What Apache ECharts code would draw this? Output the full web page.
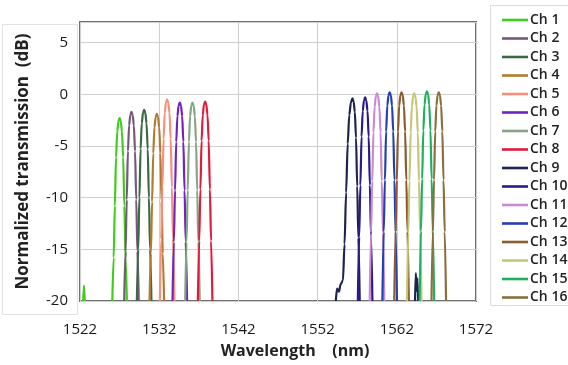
<!DOCTYPE html>
<html>
<head>
<meta charset="utf-8">
<script src="https://cdn.jsdelivr.net/npm/echarts@6/dist/echarts.min.js"></script>
<style>
  html, body { margin: 0; padding: 0; background: #fff; }
  #chart { width: 568px; height: 365px; }
</style>
</head>
<body>
<div id="chart"></div>
<script>
// wavelength (nm), transmission (dB)
const X0 = 1522
const xTicks = [1522, 1532, 1542, 1552, 1562, 1572]
const yTicks = [-20, -15, -10, -5, 0, 5]
const names = ["Ch 1", "Ch 2", "Ch 3", "Ch 4", "Ch 5", "Ch 6", "Ch 7", "Ch 8",
  "Ch 9", "Ch 10", "Ch 11", "Ch 12", "Ch 13", "Ch 14", "Ch 15", "Ch 16"]

const ch1 = [[1522.4,-20],[1522.5,-18.5],[1522.6,-20],[1524,"-"],[1526.08,-20],[1526.25,-15.8],[1526.4,-10.8],[1526.55,-6.1],[1526.7,-3.6],[1526.85,-2.6],[1527.0,-2.3],[1527.15,-2.6],[1527.3,-3.6],[1527.45,-6.1],[1527.6,-10.8],[1527.75,-15.8],[1527.92,-20]]
const ch2 = [[1527.58,-20],[1527.75,-15.2],[1527.9,-10.2],[1528.05,-5.5],[1528.2,-3.0],[1528.35,-2.0],[1528.5,-1.7],[1528.65,-2.0],[1528.8,-3.0],[1528.95,-5.5],[1529.1,-10.2],[1529.25,-15.2],[1529.42,-20]]
const ch3 = [[1529.18,-20],[1529.35,-15.0],[1529.5,-10.0],[1529.65,-5.3],[1529.8,-2.8],[1529.95,-1.8],[1530.1,-1.5],[1530.25,-1.8],[1530.4,-2.8],[1530.55,-5.3],[1530.7,-10.0],[1530.85,-15.0],[1531.02,-20]]
const ch4 = [[1530.78,-20],[1530.95,-15.4],[1531.1,-10.4],[1531.25,-5.7],[1531.4,-3.2],[1531.55,-2.2],[1531.7,-1.9],[1531.85,-2.2],[1532.0,-3.2],[1532.15,-5.7],[1532.3,-10.4],[1532.45,-15.4],[1532.62,-20]]
const ch5 = [[1532.08,-20],[1532.25,-14.0],[1532.4,-9.0],[1532.55,-4.3],[1532.7,-1.8],[1532.85,-0.8],[1533.0,-0.5],[1533.15,-0.8],[1533.3,-1.8],[1533.45,-4.3],[1533.6,-9.0],[1533.75,-14.0],[1533.92,-20]]
const ch6 = [[1533.68,-20],[1533.85,-14.3],[1534.0,-9.3],[1534.15,-4.6],[1534.3,-2.1],[1534.45,-1.1],[1534.6,-0.8],[1534.75,-1.1],[1534.9,-2.1],[1535.05,-4.6],[1535.2,-9.3],[1535.35,-14.3],[1535.52,-20]]
const ch7 = [[1535.28,-20],[1535.45,-14.3],[1535.6,-9.3],[1535.75,-4.6],[1535.9,-2.1],[1536.05,-1.1],[1536.2,-0.8],[1536.35,-1.1],[1536.5,-2.1],[1536.65,-4.6],[1536.8,-9.3],[1536.95,-14.3],[1537.12,-20]]
const ch8 = [[1536.88,-20],[1537.05,-14.2],[1537.2,-9.2],[1537.35,-4.5],[1537.5,-2.0],[1537.65,-1.0],[1537.8,-0.7],[1537.95,-1.0],[1538.1,-2.0],[1538.25,-4.5],[1538.4,-9.2],[1538.55,-14.2],[1538.72,-20]]
const ch9 = [[1554.3,-20],[1554.45,-18.8],[1554.7,-19.1],[1554.9,-18.4],[1555.2,-18.0],[1555.4,-14.5],[1555.6,-9.5],[1555.8,-4.8],[1556.0,-2.0],[1556.2,-0.8],[1556.4,-0.4],[1556.55,-0.7],[1556.7,-1.7],[1556.85,-4.2],[1557.0,-8.9],[1557.15,-13.9],[1557.32,-20],[1560,"-"],[1564.3,-20],[1564.4,-17.3],[1564.5,-19.0],[1564.6,-17.8],[1564.7,-20]]
const ch10 = [[1557.08,-20],[1557.25,-13.8],[1557.4,-8.8],[1557.55,-4.1],[1557.7,-1.6],[1557.85,-0.6],[1558.0,-0.3],[1558.15,-0.6],[1558.3,-1.6],[1558.45,-4.1],[1558.6,-8.8],[1558.75,-13.8],[1558.92,-20]]
const ch11 = [[1558.58,-20],[1558.75,-13.4],[1558.9,-8.4],[1559.05,-3.7],[1559.2,-1.2],[1559.35,-0.2],[1559.5,0.1],[1559.65,-0.2],[1559.8,-1.2],[1559.95,-3.7],[1560.1,-8.4],[1560.25,-13.4],[1560.42,-20]]
const ch12 = [[1560.18,-20],[1560.35,-13.3],[1560.5,-8.3],[1560.65,-3.6],[1560.8,-1.1],[1560.95,-0.1],[1561.1,0.2],[1561.25,-0.1],[1561.4,-1.1],[1561.55,-3.6],[1561.7,-8.3],[1561.85,-13.3],[1562.02,-20]]
const ch13 = [[1561.68,-20],[1561.85,-13.3],[1562.0,-8.3],[1562.15,-3.6],[1562.3,-1.1],[1562.45,-0.1],[1562.6,0.2],[1562.75,-0.1],[1562.9,-1.1],[1563.05,-3.6],[1563.2,-8.3],[1563.35,-13.3],[1563.52,-20]]
const ch14 = [[1563.28,-20],[1563.45,-13.4],[1563.6,-8.4],[1563.75,-3.7],[1563.9,-1.2],[1564.05,-0.2],[1564.2,0.1],[1564.35,-0.2],[1564.5,-1.2],[1564.65,-3.7],[1564.8,-8.4],[1564.95,-13.4],[1565.12,-20]]
const ch15 = [[1564.88,-20],[1565.05,-13.2],[1565.2,-8.2],[1565.35,-3.5],[1565.5,-1.0],[1565.65,0.0],[1565.8,0.3],[1565.95,0.0],[1566.1,-1.0],[1566.25,-3.5],[1566.4,-8.2],[1566.55,-13.2],[1566.72,-20]]
const ch16 = [[1566.38,-20],[1566.55,-13.3],[1566.7,-8.3],[1566.85,-3.6],[1567.0,-1.1],[1567.15,-0.1],[1567.3,0.2],[1567.45,-0.1],[1567.6,-1.1],[1567.75,-3.6],[1567.9,-8.3],[1568.05,-13.3],[1568.22,-20]]

const channels = [ch1, ch2, ch3, ch4, ch5, ch6, ch7, ch8, ch9, ch10, ch11, ch12, ch13, ch14, ch15, ch16]

const colors = ["#3fcc1c", "#76587a", "#3b6a45", "#b27a32", "#f7907a", "#7322c2", "#84a684", "#e01c3c",
  "#1f2350", "#2c1a8a", "#c98cd2", "#2440b0", "#8b5a2e", "#c6c67a", "#1fb05e", "#8a703e"]

const font = "'Open Sans', 'Noto Sans', sans-serif"

const chart = echarts.init(document.getElementById("chart"), null, { renderer: "canvas" })

const series = channels.map((ch, i) => ({
  name: names[i],
  type: "line",
  symbol: "none",
  smooth: 0.3,
  smoothMonotone: "x",
  connectNulls: false,
  lineStyle: { width: 2.2, color: colors[i] },
  itemStyle: { color: colors[i] },
  // x is shifted so ticks can start at 1522
  data: ch.map(p => [p[0] - X0, p[1]])
}))

chart.setOption({
  animation: false,
  backgroundColor: "#fff",
  textStyle: { fontFamily: font },
  graphic: [
    { type: "rect", left: 0, top: 22, shape: { width: 75, height: 290 },
      style: { fill: "none", stroke: "#e2e2e2", lineWidth: 1 }, z: -1 },
    { type: "rect", left: 488, top: 3, shape: { width: 82, height: 300 },
      style: { fill: "none", stroke: "#dcdcdc", lineWidth: 1 }, z: -1 }
  ],
  grid: {
    left: 80, right: 92, top: 22, bottom: 64,
    show: true, borderColor: "#707070", borderWidth: 2
  },
  legend: {
    orient: "vertical",
    left: 497, top: 8,
    icon: "path://M0,0 H26 V2.6 H0 Z",
    itemWidth: 26, itemHeight: 14, itemGap: 4.5,
    textStyle: { fontSize: 14, fontWeight: 600, color: "#222", fontFamily: font, padding: [0, 0, 0, -3] },
    data: names
  },
  xAxis: {
    type: "value",
    min: xTicks[0] - X0,
    max: xTicks[xTicks.length - 1] - X0,
    interval: xTicks[1] - xTicks[0],
    name: "Wavelength    (nm)",
    nameLocation: "middle",
    nameGap: 42,
    nameTextStyle: { fontSize: 16, fontWeight: "bold", color: "#222", padding: [0, 0, 0, 34] },
    axisLine: { show: false },
    axisTick: { show: false },
    axisLabel: { fontSize: 15, color: "#1a1a1a", margin: 21, formatter: v => v + X0 },
    splitLine: { show: true, lineStyle: { color: "#cfcfcf", width: 1 } }
  },
  yAxis: {
    type: "value",
    min: yTicks[0],
    max: 7,
    interval: yTicks[1] - yTicks[0],
    name: "Normalized transmission  (dB)",
    nameLocation: "middle",
    nameGap: 48,
    nameRotate: 90,
    nameTextStyle: { fontSize: 17, fontWeight: "bold", color: "#222" },
    axisLine: { show: false },
    axisTick: { show: false },
    axisLabel: { fontSize: 15, color: "#1a1a1a", margin: 12, showMaxLabel: false },
    splitLine: { show: true, lineStyle: { color: "#cfcfcf", width: 1 } }
  },
  series: series
})
</script>
</body>
</html>
